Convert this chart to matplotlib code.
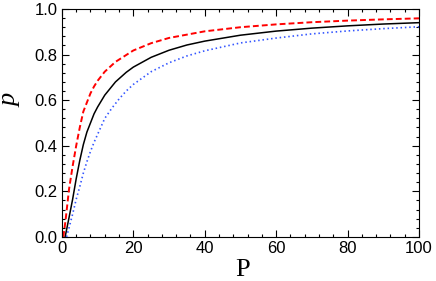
import matplotlib.pyplot as plt
from matplotlib.ticker import MultipleLocator

# Valores
x_solid = [0.9, 2, 3, 4, 5, 6, 7, 8, 9, 10, 12, 15, 18, 20, 25, 30, 35, 40,
           50, 60, 70, 80, 90, 100]
y_solid = [0.0, 0.085, 0.165, 0.255, 0.335, 0.405, 0.46, 0.5, 0.54, 0.57, 0.622,
           0.68, 0.722, 0.745, 0.788, 0.819, 0.842, 0.859, 0.885, 0.903, 0.916,
           0.926, 0.934, 0.94]

x_dashed = [0.4, 1, 2, 3, 4, 5, 6, 7, 8, 9, 10, 12, 15, 20, 25, 30, 40, 50,
            60, 70, 80, 90, 100]
y_dashed = [0.0, 0.07, 0.21, 0.31, 0.4, 0.48, 0.55, 0.59, 0.63, 0.66, 0.685, 0.725,
            0.768, 0.818, 0.85, 0.873, 0.902, 0.92, 0.9325, 0.942, 0.949, 0.9545,
            0.959]

x_dotted = [1.3, 2, 3, 4, 5, 6, 7, 8, 9, 10, 12, 14, 16, 18, 20, 25, 30, 35,
            40, 50, 60, 70, 80, 90, 100]
y_dotted = [0.0, 0.04, 0.1, 0.165, 0.22, 0.28, 0.33, 0.375, 0.415, 0.45, 0.52,
            0.565, 0.605, 0.64, 0.669, 0.725, 0.764, 0.794, 0.8165, 0.851, 0.8725,
            0.8908, 0.9037, 0.9138, 0.922]

fig = plt.figure(figsize=(4.36, 2.81), dpi=100)
ax = fig.add_axes([0.142, 0.157, 0.819, 0.811])

ax.plot(x_solid, y_solid, color='black', lw=1.1)
ax.plot(x_dashed, y_dashed, color='red', lw=1.4, linestyle=(0, (3, 1.6)))
ax.plot(x_dotted, y_dotted, color='#3355ff', lw=1.2, linestyle=(0, (0.9, 1.7)))

ax.set_xlim(0, 100)
ax.set_ylim(0, 1)
ax.xaxis.set_major_locator(MultipleLocator(20))
ax.xaxis.set_minor_locator(MultipleLocator(4))
ax.yaxis.set_major_locator(MultipleLocator(0.2))
ax.yaxis.set_minor_locator(MultipleLocator(0.04))
ax.yaxis.set_major_formatter(plt.FuncFormatter(lambda v, p: f'{v:.1f}'))

ax.tick_params(which='both', direction='in', top=True, right=True, width=0.8,
               labelsize=12, pad=3)
ax.tick_params(which='major', length=5)
ax.tick_params(which='minor', length=2.5)
for lab in ax.get_xticklabels() + ax.get_yticklabels():
    lab.set_family('Liberation Sans')
for s in ax.spines.values():
    s.set_linewidth(0.8)

ax.set_xlabel('P', family='Liberation Serif', fontsize=19)
ax.xaxis.set_label_coords(0.507, -0.097)
ax.set_ylabel('p', family='Liberation Serif', style='italic', fontsize=19)
ax.yaxis.set_label_coords(-0.113, 0.60)

fig.savefig('out.png', dpi=100)
